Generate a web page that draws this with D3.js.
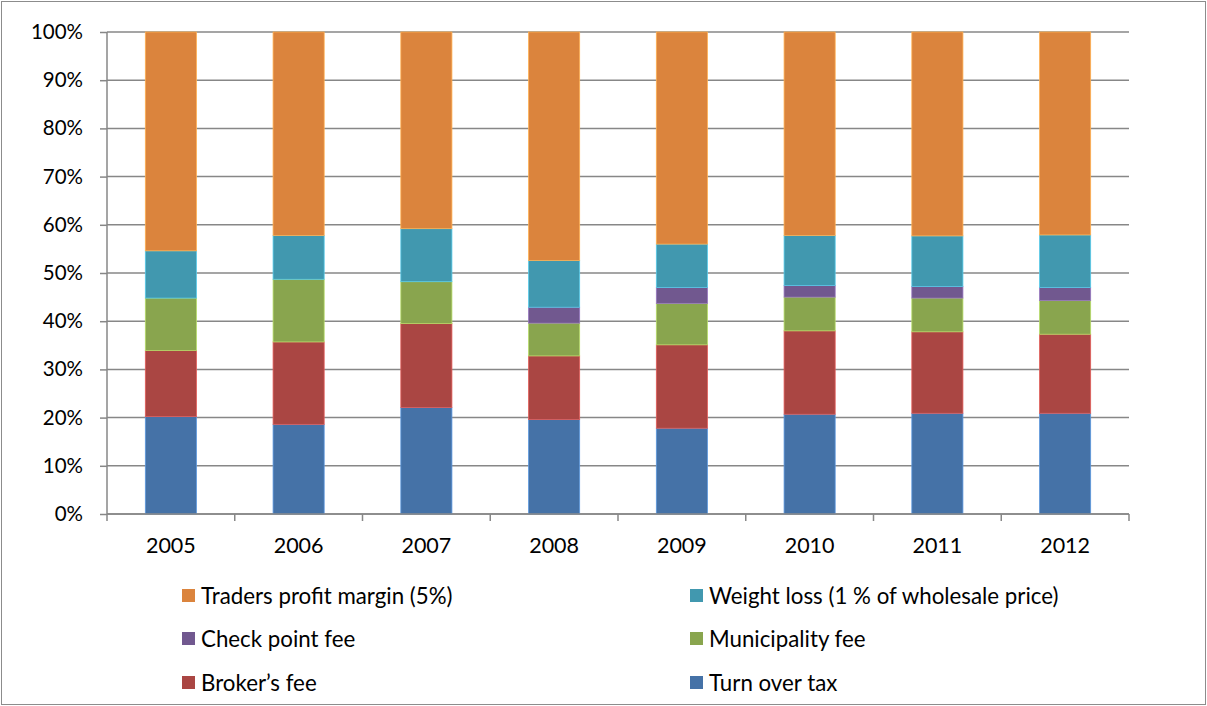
<!DOCTYPE html>
<html>
<head>
<meta charset="utf-8">
<script src="https://cdn.jsdelivr.net/npm/d3@7"></script>
<style>
  html, body { margin: 0; padding: 0; background: #fff; }
  svg { display: block; font-family: Lato, "Open Sans", sans-serif; }
</style>
</head>
<body>
<svg id="chart" width="1207" height="706"></svg>
<script>
// Share of each cost component in the price, by year (percent)
const years = ["2005", "2006", "2007", "2008", "2009", "2010", "2011", "2012"];
const turnOverTax    = [20.2, 18.6, 22.1, 19.6, 17.8, 20.7, 20.9, 20.9];
const brokersFee     = [13.7, 17.1, 17.4, 13.2, 17.3, 17.3, 16.9, 16.4];
const municipalFee   = [10.9, 13.0,  8.7,  6.8,  8.6,  7.0,  7.0,  7.0];
const checkPointFee  = [ 0.0,  0.0,  0.0,  3.3,  3.3,  2.4,  2.4,  2.7];
const weightLoss     = [ 9.8,  9.1, 11.0,  9.7,  9.0, 10.4, 10.5, 10.9];
const tradersMargin  = [45.4, 42.2, 40.8, 47.4, 44.0, 42.2, 42.3, 42.1];
const yTickLabels    = ["0%", "10%", "20%", "30%", "40%", "50%", "60%", "70%", "80%", "90%", "100%"];

// Stacking order, bottom to top
const series = [
  { name: "Turn over tax",                        values: turnOverTax,   color: "#4572A7" },
  { name: "Broker\u2019s fee",                    values: brokersFee,    color: "#AA4643" },
  { name: "Municipality fee",                     values: municipalFee,  color: "#89A54E" },
  { name: "Check point fee",                      values: checkPointFee, color: "#71588F" },
  { name: "Weight loss (1 % of wholesale price)", values: weightLoss,    color: "#4198AF" },
  { name: "Traders profit margin (5%)",           values: tradersMargin, color: "#DB843D" }
];

// Legend layout: two columns, three rows, read left-to-right from the top
const legendOrder = [
  "Traders profit margin (5%)", "Weight loss (1 % of wholesale price)",
  "Check point fee", "Municipality fee",
  "Broker\u2019s fee", "Turn over tax"
];

const svg = d3.select("#chart");
const margin = { left: 107, right: 1129, top: 32, bottom: 514 };

// Outer frame
svg.append("rect")
  .attr("x", 1.5).attr("y", 1.5).attr("width", 1204).attr("height", 703)
  .attr("fill", "#fff").attr("stroke", "#8c8c8c").attr("stroke-width", 1);

const table = years.map((y, i) => {
  const row = { year: y };
  series.forEach(s => { row[s.name] = s.values[i]; });
  return row;
});

const stack = d3.stack()
  .keys(series.map(s => s.name))
  .offset(d3.stackOffsetExpand);
const stacked = stack(table);

const x = d3.scaleBand().domain(years).range([margin.left, margin.right]).paddingInner(0.6).paddingOuter(0.3);
const xOuter = d3.scaleBand().domain(years).range([margin.left, margin.right]);
const y = d3.scaleLinear().domain([0, 1]).range([margin.bottom, margin.top]);

const gridColor = "#878787";

// Horizontal gridlines
svg.append("g")
  .selectAll("line")
  .data(yTickLabels.map((_, i) => i / 10))
  .join("line")
  .attr("x1", margin.left).attr("x2", margin.right)
  .attr("y1", d => y(d)).attr("y2", d => y(d))
  .attr("stroke", gridColor).attr("stroke-width", 1.5);

// Y axis
const yAxis = d3.axisLeft(y)
  .tickValues(yTickLabels.map((_, i) => i / 10))
  .tickFormat((d, i) => yTickLabels[i])
  .tickSize(7).tickPadding(17);
const yG = svg.append("g").attr("transform", `translate(${margin.left},0)`).call(yAxis);
yG.select(".domain").attr("stroke", gridColor).attr("stroke-width", 1.5).attr("d", `M0,${margin.bottom}V${margin.top}`);
yG.selectAll(".tick line").attr("stroke", gridColor).attr("stroke-width", 1.5);
yG.selectAll(".tick text").attr("fill", "#000").style("font-size", "20.5px").style("font-family", "Lato, sans-serif");

// Bars
svg.append("g")
  .selectAll("g")
  .data(stacked)
  .join("g")
  .attr("fill", (d, i) => series[i].color)
  .attr("stroke", (d, i) => d3.color(series[i].color).brighter(0.8))
  .attr("stroke-width", 0.8)
  .selectAll("rect")
  .data(d => d.filter(p => p[1] - p[0] > 0))
  .join("rect")
  .attr("x", d => x(d.data.year))
  .attr("width", x.bandwidth())
  .attr("y", d => y(d[1]))
  .attr("height", d => y(d[0]) - y(d[1]));

// X axis with tick marks at category boundaries
const xG = svg.append("g").attr("transform", `translate(0,${margin.bottom})`);
xG.append("line")
  .attr("x1", margin.left).attr("x2", margin.right)
  .attr("stroke", gridColor).attr("stroke-width", 1.5);
const boundaries = years.map(yr => xOuter(yr)).concat([margin.right]);
xG.selectAll("line.tick")
  .data(boundaries)
  .join("line")
  .attr("class", "tick")
  .attr("x1", d => d).attr("x2", d => d)
  .attr("y1", 0).attr("y2", 7)
  .attr("stroke", gridColor).attr("stroke-width", 1.5);
xG.selectAll("text")
  .data(years)
  .join("text")
  .attr("x", d => xOuter(d) + xOuter.bandwidth() / 2)
  .attr("y", 39)
  .attr("text-anchor", "middle")
  .style("font-size", "21.5px")
  .text(d => d);

// Legend
const legendCols = [182, 690];
const legendRows = [596, 639, 683];
const legend = svg.append("g")
  .selectAll("g")
  .data(legendOrder)
  .join("g")
  .attr("transform", (d, i) => `translate(${legendCols[i % 2]},${legendRows[Math.floor(i / 2)]})`);
legend.append("rect")
  .attr("x", 0).attr("y", -7).attr("width", 13).attr("height", 13)
  .attr("fill", d => series.find(s => s.name === d).color);
legend.append("text")
  .attr("x", 19).attr("y", 0).attr("dy", "0.35em")
  .style("font-size", "22.3px")
  .text(d => d);
</script>
</body>
</html>
